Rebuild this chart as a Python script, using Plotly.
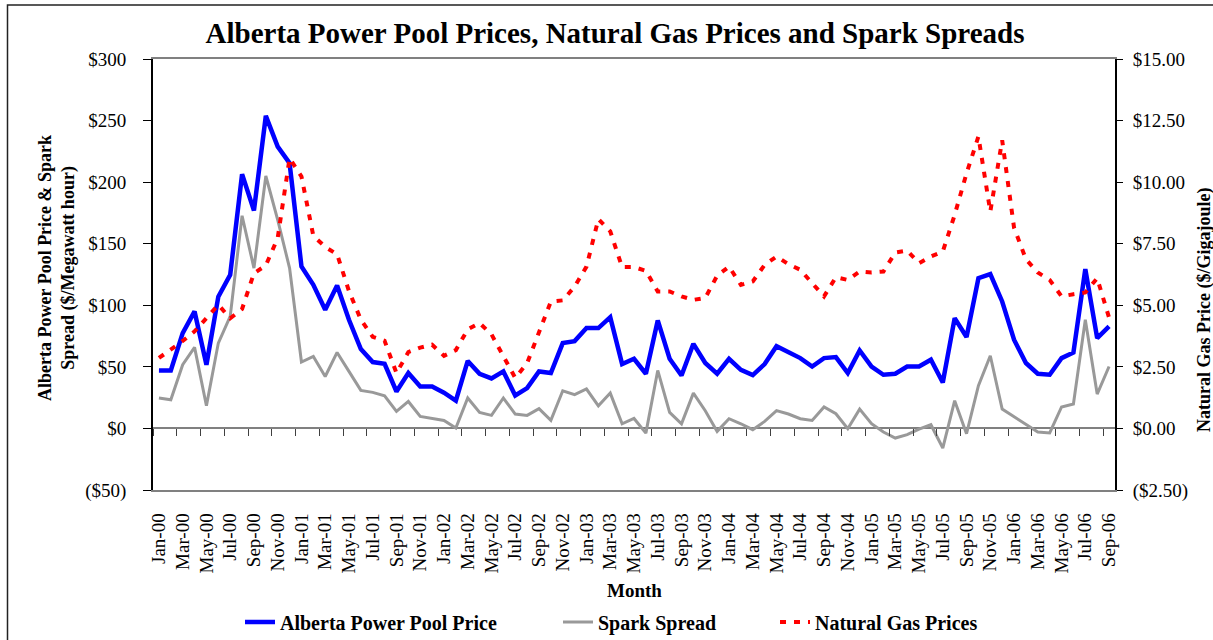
import plotly.graph_objects as go

# ---------------- data ----------------
month_names = ["Jan", "Feb", "Mar", "Apr", "May", "Jun",
               "Jul", "Aug", "Sep", "Oct", "Nov", "Dec"]
years = ["00", "01", "02", "03", "04", "05", "06"]
months = [f"{m}-{y}" for y in years for m in month_names][:81]  # Jan-00 .. Sep-06

pool_price = [47.1, 47.0, 77.4, 95.0, 51.7, 107.0, 124.8, 206.5, 177.0, 253.8,
              228.9, 215.4, 131.5, 116.6, 96.3, 116.0, 88.2, 64.4, 53.9, 52.5,
              30.0, 45.0, 34.1, 34.0, 29.0, 22.6, 54.8, 44.4, 40.6, 46.3,
              26.8, 32.8, 46.3, 45.0, 69.3, 70.9, 81.5, 81.5, 90.4, 52.3,
              56.6, 44.4, 87.7, 56.6, 43.0, 68.7, 53.1, 44.4, 56.6, 47.6,
              43.3, 52.3, 66.8, 62.0, 57.1, 50.3, 57.1, 57.9, 44.9, 63.3,
              50.3, 43.6, 44.4, 50.3, 50.3, 55.8, 37.3, 89.6, 74.2, 122.0,
              125.3, 103.1, 72.0, 53.1, 44.4, 43.6, 57.1, 61.7, 129.4, 73.4,
              82.8]

spark_spread = [24.7, 23.3, 51.7, 65.8, 18.4, 69.3, 91.0, 172.7, 130.2, 205.0,
                169.4, 130.2, 53.9, 58.4, 42.2, 61.7, 46.3, 30.9, 29.3, 26.5,
                13.8, 21.9, 9.7, 8.4, 6.5, 0.3, 24.7, 13.0, 10.6, 24.7,
                11.7, 10.6, 16.0, 6.5, 30.6, 27.4, 32.0, 18.4, 28.7, 3.8,
                8.1, -3.8, 47.1, 13.0, 3.8, 28.7, 14.4, -2.4, 7.9, 3.8,
                -1.0, 5.7, 14.5, 11.7, 7.9, 6.5, 17.4, 11.9, -0.2, 15.7,
                3.8, -2.9, -7.8, -5.1, -0.5, 3.0, -15.9, 22.5, -4.3, 34.7,
                59.0, 15.7, 9.7, 3.0, -2.9, -3.7, 17.4, 19.8, 88.2, 27.9,
                50.3]

gas_price = [2.86, 3.20, 3.55, 3.94, 4.46, 5.02, 4.47, 4.85, 6.30, 6.62,
             7.73, 10.97, 10.23, 7.82, 7.37, 7.07, 5.58, 4.42, 3.72, 3.56,
             2.25, 3.10, 3.28, 3.40, 2.95, 3.18, 4.02, 4.28, 3.82, 2.92,
             2.05, 2.65, 3.94, 5.15, 5.20, 5.76, 6.57, 8.50, 8.00, 6.55,
             6.55, 6.40, 5.56, 5.56, 5.36, 5.22, 5.30, 6.20, 6.57, 5.83,
             5.97, 6.64, 6.98, 6.67, 6.44, 5.90, 5.36, 6.14, 6.03, 6.37,
             6.33, 6.37, 7.14, 7.22, 6.71, 6.98, 7.18, 8.67, 10.36, 11.85,
             8.80, 11.70, 8.15, 6.87, 6.33, 6.03, 5.36, 5.45, 5.52, 6.10,
             4.50]

left_tickvals = [-50, 0, 50, 100, 150, 200, 250, 300]
left_ticktext = ["($50)", "$0", "$50", "$100", "$150", "$200", "$250", "$300"]
right_tickvals = [-2.5, 0, 2.5, 5, 7.5, 10, 12.5, 15]
right_ticktext = ["($2.50)", "$0.00", "$2.50", "$5.00", "$7.50", "$10.00", "$12.50", "$15.00"]

# ---------------- style / layout constants ----------------
FONT = "Liberation Serif, Times New Roman, serif"
W, H = 1213, 640
L, R, T, B = 153, 98, 59, 150
PW, PH = W - L - R, H - T - B


def px_x(px):
    return (px - L) / PW


def px_y(py):
    return (H - B - py) / PH


fig = go.Figure()

fig.add_trace(go.Scatter(
    x=months, y=spark_spread, name="Spark Spread", mode="lines",
    line=dict(color="#999999", width=3), legend="legend2"))
fig.add_trace(go.Scatter(
    x=months, y=pool_price, name="Alberta Power Pool Price", mode="lines",
    line=dict(color="#0000FF", width=4.5), legend="legend"))
fig.add_trace(go.Scatter(
    x=months, y=gas_price, name="Natural Gas Prices", mode="lines", yaxis="y2",
    line=dict(color="#FF0000", width=4, dash="6px,8px"), legend="legend3"))
# carrier for the category tick marks on the $0 line
fig.add_trace(go.Scatter(
    x=months, y=[None] * len(months), xaxis="x2", mode="lines",
    showlegend=False, hoverinfo="skip"))

tickfont = dict(family=FONT, size=19, color="black")
legfont = dict(family=FONT, size=20, color="black", weight="bold")

leg_common = dict(orientation="h", xanchor="left", yref="container",
                  y=1 - 622 / H, yanchor="middle", font=legfont,
                  bgcolor="rgba(0,0,0,0)", xref="container")

fig.update_layout(
    width=W, height=H, autosize=False,
    margin=dict(l=L, r=R, t=T, b=B, pad=0, autoexpand=False),
    paper_bgcolor="white", plot_bgcolor="white",
    title=dict(text="<b>Alberta Power Pool Prices, Natural Gas Prices and Spark Spreads</b>",
               font=dict(family=FONT, size=29, color="black"),
               x=615 / W, xanchor="center", y=1 - 33 / H, yanchor="middle",
               xref="container", yref="container"),
    xaxis=dict(type="category", categoryorder="array", categoryarray=months,
               range=[-0.5, len(months) - 0.5], tickmode="linear", tick0=0, dtick=2,
               tickangle=-90, ticks="", showline=True, linecolor="#808080", linewidth=1.5,
               mirror=True, showgrid=False, zeroline=False, tickfont=tickfont,
               ticklabelstandoff=14, automargin=False),
    xaxis2=dict(type="category", categoryorder="array", categoryarray=months,
                overlaying="x", anchor="free", position=50 / 350,
                range=[-0.5, len(months) - 0.5], tickmode="linear", tick0=0, dtick=2,
                tickson="boundaries", ticks="outside", ticklen=7, tickwidth=1.2,
                tickcolor="#404040", showticklabels=False, showline=False,
                showgrid=False, zeroline=False, automargin=False),
    yaxis=dict(range=[-50, 300], tickmode="array", tickvals=left_tickvals,
               ticktext=left_ticktext, ticks="outside", ticklen=8, tickcolor="black",
               tickwidth=1.2, showline=True, linecolor="black", linewidth=1.8,
               showgrid=False, zeroline=True, zerolinecolor="#808080",
               zerolinewidth=1.5, tickfont=tickfont, ticklabelstandoff=13,
               automargin=False),
    yaxis2=dict(overlaying="y", side="right", range=[-2.5, 15], tickmode="array",
                tickvals=right_tickvals, ticktext=right_ticktext, ticks="outside",
                ticklen=6, tickcolor="black", tickwidth=1.2, showline=True,
                linecolor="black", linewidth=1.8, showgrid=False, zeroline=False,
                tickfont=tickfont, ticklabelstandoff=6, automargin=False),
    legend=dict(x=240 / W, **leg_common),
    legend2=dict(x=558 / W, **leg_common),
    legend3=dict(x=775 / W, **leg_common),
    showlegend=True,
)

annot_font = dict(family=FONT, size=18, color="black")
fig.add_annotation(text="<b>Alberta Power Pool Price & Spark<br>Spread ($/Megawatt hour)</b>",
                   xref="paper", yref="paper", x=px_x(57), y=px_y(268),
                   xanchor="center", yanchor="middle", textangle=-90, showarrow=False,
                   font=annot_font)
fig.add_annotation(text="<b>Natural Gas Price ($/Gigajoule)</b>",
                   xref="paper", yref="paper", x=px_x(1204), y=px_y(310),
                   xanchor="center", yanchor="middle", textangle=-90, showarrow=False,
                   font=annot_font)
fig.add_annotation(text="<b>Month</b>", xref="paper", yref="paper",
                   x=px_x(634), y=px_y(590), xanchor="center", yanchor="middle",
                   showarrow=False, font=dict(family=FONT, size=19, color="black"))

# outer chart border (left and top edges visible in the frame)
fig.add_shape(type="rect", xref="paper", yref="paper",
              x0=px_x(7.5), x1=px_x(1230), y0=px_y(660), y1=px_y(5),
              line=dict(color="#222222", width=1.5), fillcolor="rgba(0,0,0,0)", layer="below")

fig.write_html("out.html", config={"displayModeBar": False},
               post_script="document.body.style.margin='0';")
